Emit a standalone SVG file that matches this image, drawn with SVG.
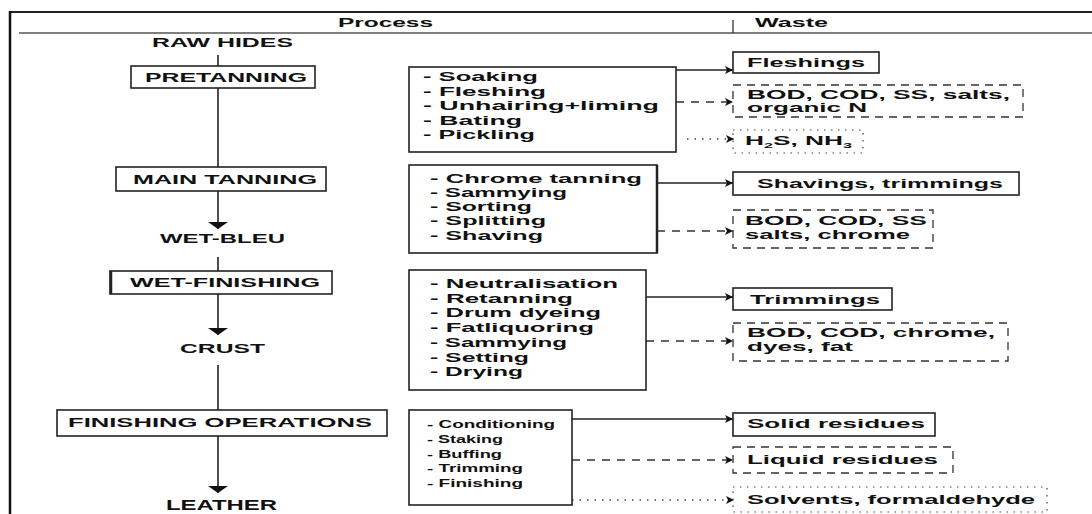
<svg xmlns="http://www.w3.org/2000/svg" width="1092" height="514" viewBox="0 0 1092 514">
<defs>
<style>
text{font-family:"Liberation Sans",Arial,sans-serif;font-weight:bold;fill:#111;}
.hd{font-size:13px;}
.pl{font-size:13px;}
.st{font-size:12.5px;}
.st4{font-size:11.5px;}
.ws{font-size:13px;}
.ws2{font-size:12px;}
.box{fill:#fff;stroke:#222;stroke-width:1.6;}
.dbox{fill:none;stroke:#333;stroke-width:1.3;stroke-dasharray:8 6;}
.tbox{fill:none;stroke:#444;stroke-width:1.2;stroke-dasharray:1.5 5.5;}
.ln{stroke:#222;stroke-width:1.6;fill:none;}
.sl{stroke:#222;stroke-width:1.5;fill:none;marker-end:url(#ah);}
.dl{stroke:#333;stroke-width:1.5;fill:none;stroke-dasharray:8 7;marker-end:url(#ah);}
.tl{stroke:#444;stroke-width:1.3;fill:none;stroke-dasharray:1.5 6;marker-end:url(#ah);}
.pa{stroke:#222;stroke-width:1.6;fill:none;marker-end:url(#pa);}
</style>
<marker id="ah" markerUnits="userSpaceOnUse" viewBox="0 0 8 8" refX="8" refY="4" markerWidth="8" markerHeight="8" orient="auto">
<path d="M0,0 L8,4 L0,8 L2,4 z" fill="#111"/>
</marker>
<marker id="pa" markerUnits="userSpaceOnUse" viewBox="0 0 7 20" refX="7" refY="10" markerWidth="7" markerHeight="20" orient="auto">
<path d="M0,0 L7,10 L0,20 z" fill="#111"/>
</marker>
</defs>
<rect width="1092" height="514" fill="#fff"/>

<g id="frame">
<line x1="10" y1="12" x2="1092" y2="12" stroke="#222" stroke-width="2"/>
<line x1="19" y1="33" x2="1092" y2="33" stroke="#555" stroke-width="1.5"/>
<line x1="10" y1="11" x2="10" y2="514" stroke="#111" stroke-width="2.5"/>
<line x1="733" y1="20" x2="733" y2="33" stroke="#333" stroke-width="1.3"/>
<text class="hd" x="338" y="27" textLength="95" lengthAdjust="spacingAndGlyphs">Process</text>
<text class="hd" x="755" y="27" textLength="73" lengthAdjust="spacingAndGlyphs">Waste</text>
</g>

<g id="connectors">
<line class="ln" x1="218" y1="55" x2="218" y2="66"/>
<line class="ln" x1="218" y1="88" x2="218" y2="167"/>
<line class="pa" x1="218" y1="191" x2="218" y2="229"/>
<line class="ln" x1="218" y1="257" x2="218" y2="271"/>
<line class="pa" x1="218" y1="294" x2="218" y2="335"/>
<line class="ln" x1="218" y1="365" x2="218" y2="410"/>
<line class="pa" x1="218" y1="436" x2="218" y2="493"/>

<line class="sl" x1="676" y1="70" x2="733" y2="70"/>
<line class="dl" x1="676" y1="102" x2="733" y2="102"/>
<line class="tl" x1="687" y1="139" x2="734" y2="139"/>
<line class="sl" x1="657" y1="183" x2="733" y2="183"/>
<line class="dl" x1="657" y1="231" x2="733" y2="231"/>
<line class="sl" x1="646" y1="297" x2="733" y2="297"/>
<line class="dl" x1="646" y1="341" x2="733" y2="341"/>
<line class="sl" x1="572" y1="419" x2="733" y2="419"/>
<line class="dl" x1="572" y1="460" x2="733" y2="460"/>
<line class="tl" x1="572" y1="500" x2="734" y2="500"/>
</g>

<g id="raw-hides">
<text class="pl" x="152" y="47" textLength="141" lengthAdjust="spacingAndGlyphs">RAW HIDES</text>
</g>
<g id="pretanning">
<rect class="box" x="131" y="66" width="184" height="22"/>
<text class="pl" x="145" y="82" textLength="162" lengthAdjust="spacingAndGlyphs">PRETANNING</text>
</g>
<g id="main-tanning">
<rect class="box" x="116" y="167" width="210" height="24"/>
<text class="pl" x="133" y="184" textLength="184" lengthAdjust="spacingAndGlyphs">MAIN TANNING</text>
</g>
<g id="wet-bleu">
<text class="pl" x="160" y="243" textLength="125" lengthAdjust="spacingAndGlyphs">WET-BLEU</text>
</g>
<g id="wet-finishing">
<rect class="box" x="110" y="271" width="222" height="23"/>
<line x1="111" y1="271" x2="111" y2="294" stroke="#222" stroke-width="2.5"/>
<text class="pl" x="130" y="287" textLength="190" lengthAdjust="spacingAndGlyphs">WET-FINISHING</text>
</g>
<g id="crust">
<text class="pl" x="180" y="353" textLength="85" lengthAdjust="spacingAndGlyphs">CRUST</text>
</g>
<g id="finishing-operations">
<rect class="box" x="57" y="410" width="330" height="26"/>
<text class="pl" x="68" y="427" textLength="304" lengthAdjust="spacingAndGlyphs">FINISHING OPERATIONS</text>
</g>
<g id="leather">
<text class="pl" x="166" y="510" style="font-size:15px" textLength="111" lengthAdjust="spacingAndGlyphs">LEATHER</text>
</g>

<g id="pretanning-steps">
<rect class="box" x="409" y="67" width="267" height="85"/>
<text class="st" x="423" y="81" textLength="115" lengthAdjust="spacingAndGlyphs">- Soaking</text>
<text class="st" x="423" y="96" textLength="123" lengthAdjust="spacingAndGlyphs">- Fleshing</text>
<text class="st" x="423" y="110" textLength="236" lengthAdjust="spacingAndGlyphs">- Unhairing+liming</text>
<text class="st" x="423" y="125" textLength="99" lengthAdjust="spacingAndGlyphs">- Bating</text>
<text class="st" x="423" y="139" textLength="112" lengthAdjust="spacingAndGlyphs">- Pickling</text>
</g>
<g id="tanning-steps">
<rect class="box" x="409" y="165" width="248" height="88"/>
<line x1="657" y1="165" x2="657" y2="253" stroke="#222" stroke-width="2.5"/>
<text class="st" x="430" y="183" textLength="212" lengthAdjust="spacingAndGlyphs">- Chrome tanning</text>
<text class="st" x="430" y="197" textLength="137" lengthAdjust="spacingAndGlyphs">- Sammying</text>
<text class="st" x="430" y="211" textLength="102" lengthAdjust="spacingAndGlyphs">- Sorting</text>
<text class="st" x="430" y="225" textLength="116" lengthAdjust="spacingAndGlyphs">- Splitting</text>
<text class="st" x="430" y="240" textLength="113" lengthAdjust="spacingAndGlyphs">- Shaving</text>
</g>
<g id="wet-finishing-steps">
<rect class="box" x="409" y="270" width="237" height="120"/>
<text class="st" x="430" y="288" textLength="188" lengthAdjust="spacingAndGlyphs">- Neutralisation</text>
<text class="st" x="430" y="303" textLength="143" lengthAdjust="spacingAndGlyphs">- Retanning</text>
<text class="st" x="430" y="317" textLength="171" lengthAdjust="spacingAndGlyphs">- Drum dyeing</text>
<text class="st" x="430" y="332" textLength="164" lengthAdjust="spacingAndGlyphs">- Fatliquoring</text>
<text class="st" x="430" y="347" textLength="137" lengthAdjust="spacingAndGlyphs">- Sammying</text>
<text class="st" x="430" y="362" textLength="99" lengthAdjust="spacingAndGlyphs">- Setting</text>
<text class="st" x="430" y="376" textLength="93" lengthAdjust="spacingAndGlyphs">- Drying</text>
</g>
<g id="finishing-steps">
<rect class="box" x="409" y="410" width="163" height="95"/>
<text class="st4" x="427" y="428" textLength="128" lengthAdjust="spacingAndGlyphs">- Conditioning</text>
<text class="st4" x="427" y="443" textLength="76" lengthAdjust="spacingAndGlyphs">- Staking</text>
<text class="st4" x="427" y="458" textLength="75" lengthAdjust="spacingAndGlyphs">- Buffing</text>
<text class="st4" x="427" y="472" textLength="96" lengthAdjust="spacingAndGlyphs">- Trimming</text>
<text class="st4" x="427" y="487" textLength="96" lengthAdjust="spacingAndGlyphs">- Finishing</text>
</g>

<g id="fleshings">
<rect class="box" x="733" y="52" width="146" height="21"/>
<text class="ws" x="747" y="67" textLength="118" lengthAdjust="spacingAndGlyphs">Fleshings</text>
</g>
<g id="waste-water-1">
<rect class="dbox" x="733" y="85" width="290" height="32"/>
<text class="ws2" x="747" y="99" textLength="263" lengthAdjust="spacingAndGlyphs">BOD, COD, SS, salts,</text>
<text class="ws2" x="747" y="112" textLength="120" lengthAdjust="spacingAndGlyphs">organic N</text>
</g>
<g id="gases">
<rect class="tbox" x="733" y="130" width="130" height="23"/>
<text class="ws" x="745" y="145" textLength="107" lengthAdjust="spacingAndGlyphs">H<tspan font-size="8" dy="3">2</tspan><tspan dy="-3">S, NH</tspan><tspan font-size="8" dy="3">3</tspan></text>
</g>
<g id="shavings">
<rect class="box" x="733" y="172" width="286" height="23"/>
<text class="ws" x="757" y="188" textLength="246" lengthAdjust="spacingAndGlyphs">Shavings, trimmings</text>
</g>
<g id="waste-water-2">
<rect class="dbox" x="733" y="210" width="200" height="38"/>
<text class="ws" x="745" y="225" textLength="182" lengthAdjust="spacingAndGlyphs">BOD, COD, SS</text>
<text class="ws" x="745" y="239" textLength="165" lengthAdjust="spacingAndGlyphs">salts, chrome</text>
</g>
<g id="trimmings">
<rect class="box" x="733" y="288" width="159" height="22"/>
<text class="ws" x="750" y="304" textLength="130" lengthAdjust="spacingAndGlyphs">Trimmings</text>
</g>
<g id="waste-water-3">
<rect class="dbox" x="733" y="323" width="275" height="38"/>
<text class="ws" x="747" y="337" textLength="248" lengthAdjust="spacingAndGlyphs">BOD, COD, chrome,</text>
<text class="ws" x="747" y="351" textLength="106" lengthAdjust="spacingAndGlyphs">dyes, fat</text>
</g>
<g id="solid-residues">
<rect class="box" x="733" y="413" width="202" height="23"/>
<text class="ws" x="747" y="428" textLength="178" lengthAdjust="spacingAndGlyphs">Solid residues</text>
</g>
<g id="liquid-residues">
<rect class="dbox" x="733" y="447" width="220" height="26"/>
<text class="ws" x="747" y="464" textLength="191" lengthAdjust="spacingAndGlyphs">Liquid residues</text>
</g>
<g id="solvents">
<rect class="tbox" x="733" y="487" width="314" height="25"/>
<text class="ws" x="747" y="504" textLength="288" lengthAdjust="spacingAndGlyphs">Solvents, formaldehyde</text>
</g>
</svg>
